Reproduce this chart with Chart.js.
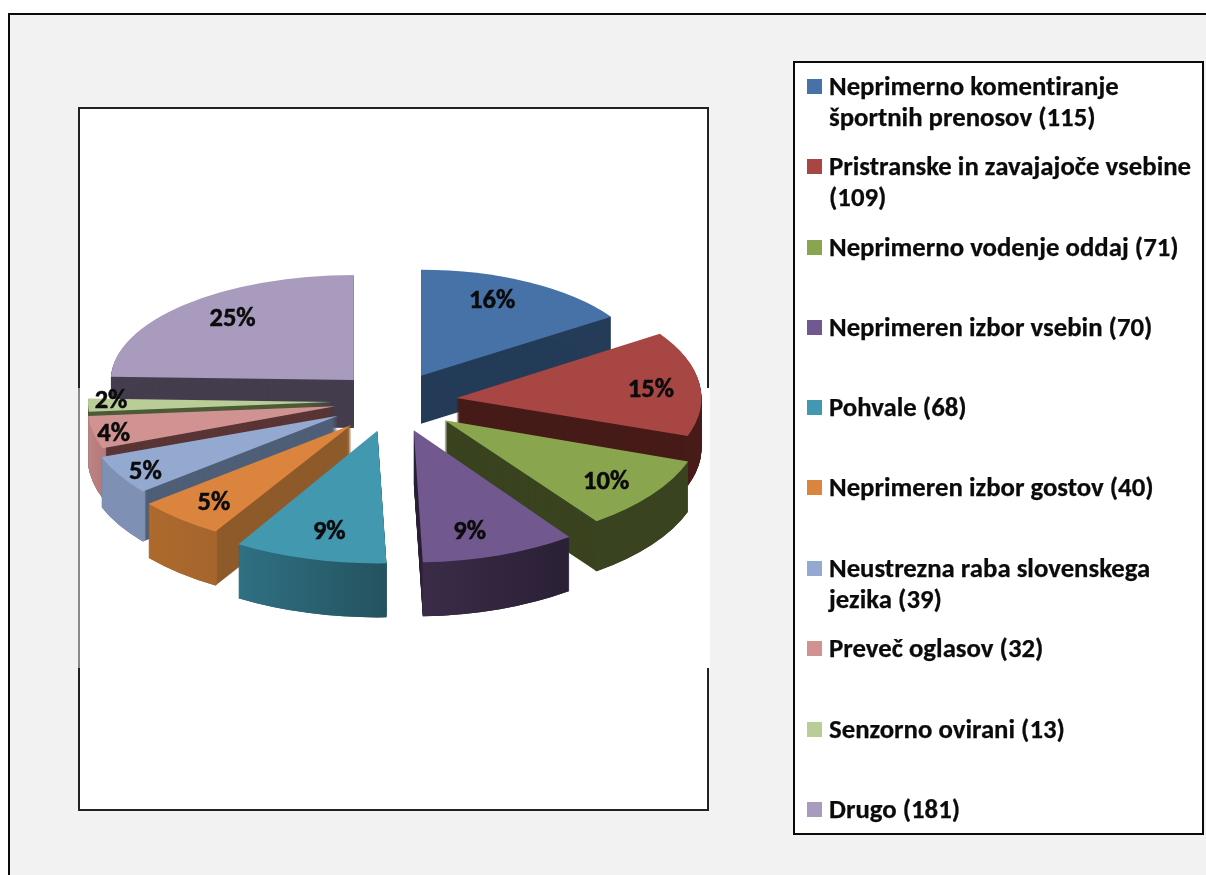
<!DOCTYPE html>
<html lang="sl">
<head>
<meta charset="utf-8">
<title>Pie</title>
<script src="https://cdn.jsdelivr.net/npm/chart.js@4/dist/chart.umd.min.js"></script>
<style>
html,body{margin:0;padding:0;background:#fff;width:1206px;height:875px;overflow:hidden}
.abs{position:absolute;box-sizing:border-box}
#outer{left:8px;top:13px;width:1300px;height:1000px;background:#f2f2f2;border:2px solid #0a0a0a}
#plot{left:78px;top:107px;width:631px;height:704px;background:#fff;border:2px solid #222}
#gapR{left:700px;top:388px;width:10px;height:280px;background:#fff}
#gapL{left:78px;top:388px;width:3px;height:280px;background:#fff;border-left:2px solid #8a8a8a}
#legend{left:793px;top:61px;width:411px;height:774px;background:#fff;border:2px solid #0a0a0a}
canvas{position:absolute;left:0;top:0;filter:blur(.5px)}
.mk{position:absolute;left:807px;width:15px;height:15px}
.tx{position:absolute;left:829px;font:bold 25.5px/31px Carlito,Calibri,Lato,sans-serif;color:#0b0b0b;white-space:nowrap;font-variant-ligatures:none;transform:scaleX(1.05);transform-origin:left top;-webkit-text-stroke:.25px #0b0b0b;filter:blur(.3px)}
</style>
</head>
<body>
<div class="abs" id="outer"></div>
<div class="abs" id="plot"></div>
<div class="abs" id="gapR"></div>
<div class="abs" id="gapL"></div>
<div class="abs" id="legend"></div>
<canvas id="c" width="1206" height="875"></canvas>
<div id="lg"></div>
<script>
const categories = [
  "Neprimerno komentiranje športnih prenosov (115)",
  "Pristranske in zavajajoče vsebine (109)",
  "Neprimerno vodenje oddaj (71)",
  "Neprimeren izbor vsebin (70)",
  "Pohvale (68)",
  "Neprimeren izbor gostov (40)",
  "Neustrezna raba slovenskega jezika (39)",
  "Preveč oglasov (32)",
  "Senzorno ovirani (13)",
  "Drugo (181)"
];
const legendLines = [
  ["Neprimerno komentiranje","športnih prenosov (115)"],
  ["Pristranske in zavajajoče vsebine","(109)"],
  ["Neprimerno vodenje oddaj (71)"],
  ["Neprimeren izbor vsebin (70)"],
  ["Pohvale (68)"],
  ["Neprimeren izbor gostov (40)"],
  ["Neustrezna raba slovenskega","jezika (39)"],
  ["Preveč oglasov (32)"],
  ["Senzorno ovirani (13)"],
  ["Drugo (181)"]
];
const values = [115,109,71,70,68,40,39,32,13,181];
const topColors = ["#4672a7","#a84644","#89a54e","#71588f","#4198af","#db843d","#93a9cf","#d19392","#b9cd96","#a99bbd"];
const cutWall   = ["#243c58","#461b18","#3a431f","#2d2238","#2a5f70","#8f5a2a","#4f5f78","#5a3535","#4d5a38","#443d4d"];
const outerWallL= ["#243c58","#461b18","#3a431f","#3a2c48","#2f7083","#ae6a2d","#7e91b4","#bd8585","#4d5a38","#443d4d"];
const outerWallR= ["#243c58","#461b18","#3a431f","#2a2035","#24535f","#a5652c","#7e91b4","#b57a7a","#4d5a38","#443d4d"];
const sliceRadius = [229,245,258,264,268,262,252,248,244,243];
const sliceTilt   = [.463,.47,.485,.5,.495,.475,.475,.49,.49,.432];
const explodeX    = [66,67,68,73,50,59,60,56,58,52];
const explodeY    = [64,67,63,60,60,64,58,40,0,71];
const labelReachX = [.66,.8,.78,.65,.71,.8,.88,.915,.906,.716];
const labelReachY = [.82,.67,.8,.8,.77,.81,.91,.97,-1,.84];
const depth = [48,50,50,54,54,54,50,50,12,48];

const pie3d = {
  id:"pie3d",
  beforeDatasetsDraw(chart){
    const ctx = chart.ctx, meta = chart.getDatasetMeta(0);
    const order = meta.data.map((a,i)=>i).sort((p,q)=>{
      const h=a=>(a.startAngle+a.endAngle)/2;
      return Math.sin(h(meta.data[p]))-Math.sin(h(meta.data[q]));
    });
    const paint=(arc,i,d,fill,inner)=>{
      const saved={o:arc.options,r:arc.outerRadius,n:arc.innerRadius};
      const h=(arc.startAngle+arc.endAngle)/2;
      arc.options={backgroundColor:fill,borderColor:fill,borderWidth:0,borderAlign:"center",offset:0,spacing:0,circular:true,borderRadius:0,borderJoinStyle:"round",borderDash:[],borderDashOffset:0};
      arc.outerRadius=sliceRadius[i];
      arc.innerRadius=inner||0;
      ctx.save();
      ctx.translate(arc.x,arc.y+d);
      ctx.scale(1,sliceTilt[i]);
      ctx.translate(-arc.x,-arc.y);
      ctx.translate(Math.cos(h)*explodeX[i],Math.sin(h)*explodeY[i]);
      arc.draw(ctx);
      ctx.restore();
      arc.options=saved.o;arc.outerRadius=saved.r;arc.innerRadius=saved.n;
    };
    order.forEach(i=>{
      const arc=meta.data[i], R=sliceRadius[i];
      const xa=arc.x+R*Math.cos(arc.startAngle), xb=arc.x+R*Math.cos(arc.endAngle);
      const g=ctx.createLinearGradient(Math.min(xa,xb),0,Math.max(xa,xb),0);
      g.addColorStop(0,outerWallL[i]);g.addColorStop(1,outerWallR[i]);
      for(let d=depth[i];d>=1;d--) paint(arc,i,d,cutWall[i]);
      for(let d=depth[i];d>=1;d--) paint(arc,i,d,g,R-4);
      paint(arc,i,0,topColors[i]);
    });
    return false;
  },
  afterDraw(chart){
    const ctx=chart.ctx, meta=chart.getDatasetMeta(0);
    const total=values.reduce((a,b)=>a+b,0);
    ctx.save();
    ctx.font="bold 26.5px Carlito,Calibri,Lato,sans-serif";
    ctx.fillStyle="#0b0b0b";ctx.strokeStyle="#0b0b0b";ctx.lineWidth=.5;
    ctx.textAlign="center";ctx.textBaseline="middle";
    meta.data.forEach((arc,i)=>{
      const h=(arc.startAngle+arc.endAngle)/2, k=sliceTilt[i], R=sliceRadius[i];
      const text=Math.round(values[i]/total*100)+"%";
      const lx=arc.x+Math.cos(h)*(explodeX[i]+labelReachX[i]*R);
      const ly=arc.y+Math.sin(h)*(explodeY[i]+labelReachY[i]*R)*k+2.5;
      ctx.fillText(text,lx,ly);
      ctx.strokeText(text,lx,ly);
    });
    ctx.restore();
  }
};

new Chart(document.getElementById("c"),{
  type:"pie",
  data:{labels:categories,datasets:[{data:values,backgroundColor:topColors,borderWidth:0}]},
  options:{
    responsive:false,animation:false,
    layout:{padding:{left:0,top:0,right:426,bottom:71}},
    plugins:{legend:{display:false},tooltip:{enabled:false}},
    events:[]
  },
  plugins:[pie3d]
});

const rowTops=[71,151,232,312,392,472,553,633,714,794];
const host=document.getElementById("lg");
legendLines.forEach((lines,i)=>{
  const m=document.createElement("div");m.className="mk";m.style.top=(rowTops[i]+8)+"px";m.style.background=topColors[i];host.appendChild(m);
  const t=document.createElement("div");t.className="tx";t.style.top=rowTops[i]+"px";t.innerHTML=lines.join("<br>");host.appendChild(t);
});
</script>
</body>
</html>
